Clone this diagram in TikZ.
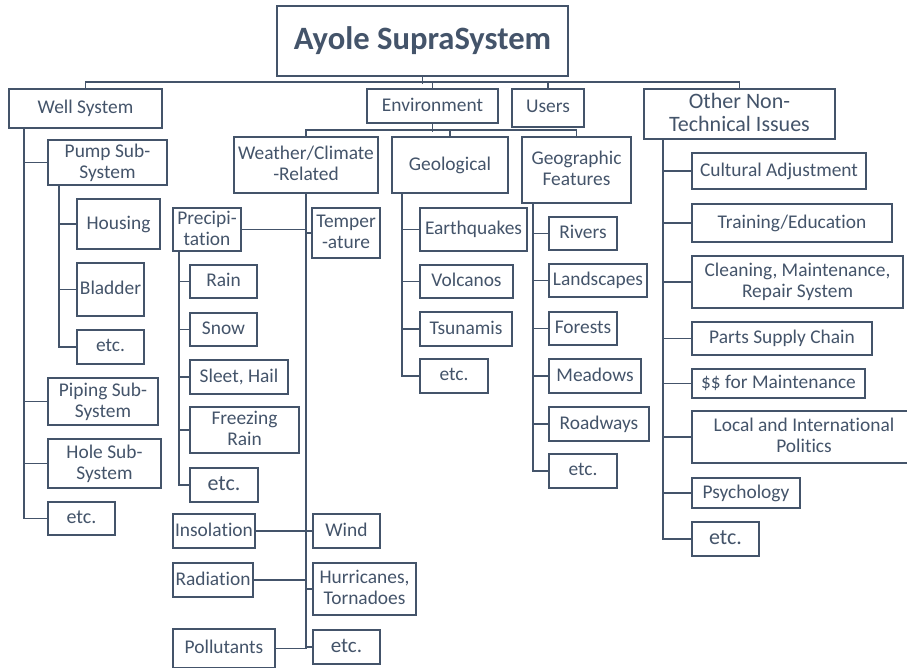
\documentclass[tikz,border=0pt]{standalone}
\usepackage{fontspec}
\setmainfont{Carlito}[Ligatures={NoCommon}]
\definecolor{ink}{HTML}{44546A}
% invisible strut so every box centres its text on the same line metrics
\newcommand\stt{\rule[-0.16em]{0pt}{0.8em}}
% \bx[options]{name}{x1}{y1}{x2}{y2}{text}: a box given by its corners
\newcommand\bx[7][]{%
  \node[box,#1,minimum width={(#5-#3)*1pt},minimum height={(#6-#4)*1pt}]
    (#2) at ({(#3+#5)/2},{(#4+#6)/2}) {#7};}
\tikzset{
  box/.style={draw=ink, line width=1.8pt, text=ink, inner sep=0pt, align=center,
    font=\fontsize{19.4}{21}\selectfont,
    execute at begin node=\stt, execute at end node=\stt},
  bigtxt/.style={font=\fontsize{22}{23}\selectfont},
  titletxt/.style={font=\fontsize{32.6}{34}\selectfont\bfseries},
  link/.style={draw=ink, line width=1.8pt}
}
\begin{document}
\begin{tikzpicture}[x=1pt,y=-1pt]
\path[use as bounding box, fill=white] (0,0) rectangle (907,667);

% top level
\bx[titletxt]{title}{277}{6}{568}{76}{Ayole SupraSystem}
\bx{well}{9}{89}{162}{128}{Well System}
\bx{env}{367}{89}{498}{123}{Environment}
\bx{users}{512}{89}{584}{127}{Users}
\bx[bigtxt]{other}{644}{89}{835}{139}{Other Non-\\Technical Issues}

% environment branches
\bx{weather}{234}{137}{378}{193}{Weather/Climate\\-Related}
\bx{geol}{392}{137}{508}{193}{Geological}
\bx{geog}{522}{137}{631}{203}{Geographic\\Features}

% geological
\bx{eq}{420}{208}{527}{251}{Earthquakes}
\bx{volc}{420}{265}{513}{298}{Volcanos}
\bx{tsu}{420}{312}{512}{346}{Tsunamis}
\bx{geoletc}{420}{359}{488}{393}{etc.}

% geographic features
\bx{riv}{549}{217}{617}{250}{Rivers}
\bx{land}{549}{264}{647}{297}{Landscapes}
\bx{fore}{549}{312}{617}{345}{Forests}
\bx{mead}{549}{359}{641}{393}{Meadows}
\bx{road}{549}{407}{649}{441}{Roadways}
\bx{geogetc}{549}{454}{617}{488}{etc.}

% other non-technical issues
\bx{cult}{692}{153}{866}{189}{Cultural Adjustment}
\bx{train}{692}{204}{892}{242}{Training/Education}
\bx{clean}{692}{256}{903}{308}{Cleaning, Maintenance,\\Repair System}
\bx{parts}{692}{322}{872}{355}{Parts Supply Chain}
\bx{money}{692}{369}{865}{398}{\$\$ for Maintenance}
\bx{politics}{692}{411}{916}{463}{Local and International\\Politics}
\bx{psych}{692}{478}{800}{508}{Psychology}
\bx[bigtxt]{othetc}{692}{522}{759}{556}{etc.}

% well system
\bx{pump}{48}{140}{167}{185}{Pump Sub-\\System}
\bx{housing}{77}{199}{160}{249}{Housing}
\bx{bladder}{77}{263}{144}{316}{Bladder}
\bx{pumpetc}{77}{330}{144}{364}{etc.}
\bx{piping}{48}{378}{158}{425}{Piping Sub-\\System}
\bx{hole}{48}{439}{161}{488}{Hole Sub-\\System}
\bx[font=\fontsize{20}{21}\selectfont]{welletc}{48}{502}{115}{535}{etc.}

% weather / climate
\bx{precip}{173}{208}{241}{251}{Precipi-\\tation}
\bx{temp}{312}{208}{380}{258}{Temper\\-ature}
\bx{rain}{190}{265}{257}{298}{Rain}
\bx{snow}{190}{313}{257}{346}{Snow}
\bx{sleet}{190}{360}{288}{394}{Sleet, Hail}
\bx{freez}{190}{407}{299}{453}{Freezing\\Rain}
\bx[bigtxt]{precetc}{190}{468}{258}{502}{etc.}
\bx{insol}{173}{514}{255}{548}{Insolation}
\bx{wind}{313}{514}{380}{548}{Wind}
\bx{rad}{173}{563}{253}{597}{Radiation}
\bx{hurr}{313}{563}{416}{615}{Hurricanes,\\Tornadoes}
\bx[font=\fontsize{21}{22}\selectfont]{wetc}{313}{630}{380}{664}{etc.}
\bx{poll}{173}{629}{275}{668}{Pollutants}

% top bus
\draw[link] (title.south) -- ++(0,7);
\draw[link] (well.north) -- ++(0,-6) -| (other.north);
\draw[link] (env.north) -- ++(0,-6);
\draw[link] (users.north) -- ++(0,-6);

% environment bus
\draw[link] (env.south) -- ++(0,8);
\draw[link] (weather.north) -- ++(0,-6) -| (geog.north);
\draw[link] (geol.north) -- ++(0,-6);

% spines
\foreach \c in {pump,piping,hole,welletc}
  \draw[link] ([xshift=16pt]well.south west) |- (\c.west);
\foreach \c in {housing,bladder,pumpetc}
  \draw[link] ([xshift=12pt]pump.south west) |- (\c.west);
\foreach \c in {eq,volc,tsu,geoletc}
  \draw[link] ([xshift=11pt]geol.south west) |- (\c.west);
\foreach \c in {riv,land,fore,mead,road,geogetc}
  \draw[link] ([xshift=12pt]geog.south west) |- (\c.west);
\foreach \c in {cult,train,clean,parts,money,politics,psych,othetc}
  \draw[link] ([xshift=20pt]other.south west) |- (\c.west);
\foreach \c in {rain,snow,sleet,freez,precetc}
  \draw[link] ([xshift=7pt]precip.south west) |- (\c.west);
\foreach \c in {temp,wind,hurr,wetc}
  \draw[link] (weather.south) |- (\c.west);
\foreach \c in {precip,insol,rad,poll}
  \draw[link] (\c.east) -- (\c.east -| weather.south);
\draw[link] (weather.south) -- (weather.south |- poll.east);
\end{tikzpicture}
\end{document}
